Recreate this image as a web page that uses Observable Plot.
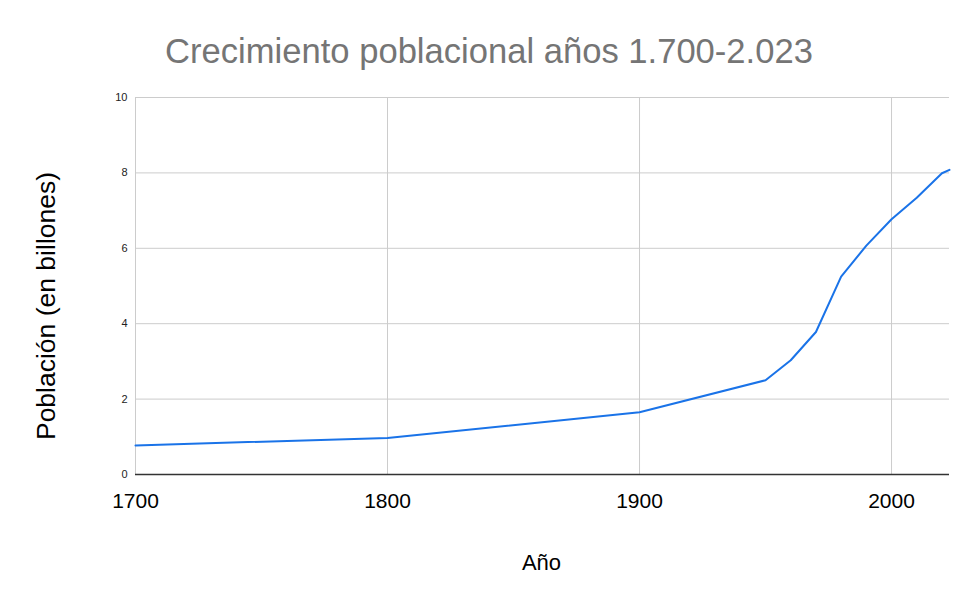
<!DOCTYPE html>
<html>
<head>
<meta charset="utf-8">
<script src="https://cdn.jsdelivr.net/npm/d3@7"></script>
<script src="https://cdn.jsdelivr.net/npm/@observablehq/plot@0.6"></script>
<style>
  html, body { margin: 0; padding: 0; background: #fff; }
  #chart svg { display: block; }
</style>
</head>
<body>
<div id="chart"></div>
<script>
const years = [1700, 1800, 1900, 1950, 1960, 1970, 1980, 1990, 2000, 2010, 2020, 2023];
const population = [0.77, 0.97, 1.65, 2.5, 3.03, 3.78, 5.25, 6.07, 6.77, 7.34, 7.99, 8.08];
const xTicks = [1700, 1800, 1900, 2000];
const yTicks = [0, 2, 4, 6, 8, 10];
const title = "Crecimiento poblacional años 1.700-2.023";
const xLabel = "Año";
const yLabel = "Población (en billones)";

const data = years.map((year, i) => ({year, value: population[i]}));

const chart = Plot.plot({
  width: 980,
  height: 607,
  marginTop: 97,
  marginBottom: 133,
  marginLeft: 135,
  marginRight: 31,
  style: {fontFamily: "'Liberation Sans', Arial, sans-serif", background: "#fff", color: "#000"},
  x: {type: "linear", domain: [1700, 2023]},
  y: {domain: [0, 10]},
  marks: [
    Plot.gridY(yTicks.filter(d => d > 0), {stroke: "#cccccc", strokeOpacity: 1, strokeWidth: 1}),
    Plot.gridX(xTicks, {stroke: "#cccccc", strokeOpacity: 1, strokeWidth: 1}),
    Plot.axisY(yTicks, {tickSize: 0, tickPadding: 8, fontSize: 11, label: null, tickFormat: d => String(d), fill: "#222"}),
    Plot.axisX(xTicks, {tickSize: 0, tickPadding: 19, fontSize: 21, label: null, tickFormat: d => String(d), fill: "#000"}),
    Plot.ruleY([0], {stroke: "#333", strokeWidth: 1.3}),
    Plot.line(data, {x: "year", y: "value", stroke: "#1a73e8", strokeWidth: 2, curve: "linear"})
  ]
});

document.getElementById("chart").appendChild(chart);

const svg = d3.select(chart);
svg.append("text")
  .attr("x", 489).attr("y", 63)
  .attr("text-anchor", "middle")
  .attr("font-size", 34.6)
  .attr("fill", "#757575")
  .text(title);
svg.append("text")
  .attr("x", 541.5).attr("y", 570)
  .attr("text-anchor", "middle")
  .attr("font-size", 22)
  .attr("fill", "#000")
  .text(xLabel);
svg.append("text")
  .attr("transform", "translate(55,306) rotate(-90)")
  .attr("text-anchor", "middle")
  .attr("font-size", 26.5)
  .attr("fill", "#000")
  .text(yLabel);
</script>
</body>
</html>
